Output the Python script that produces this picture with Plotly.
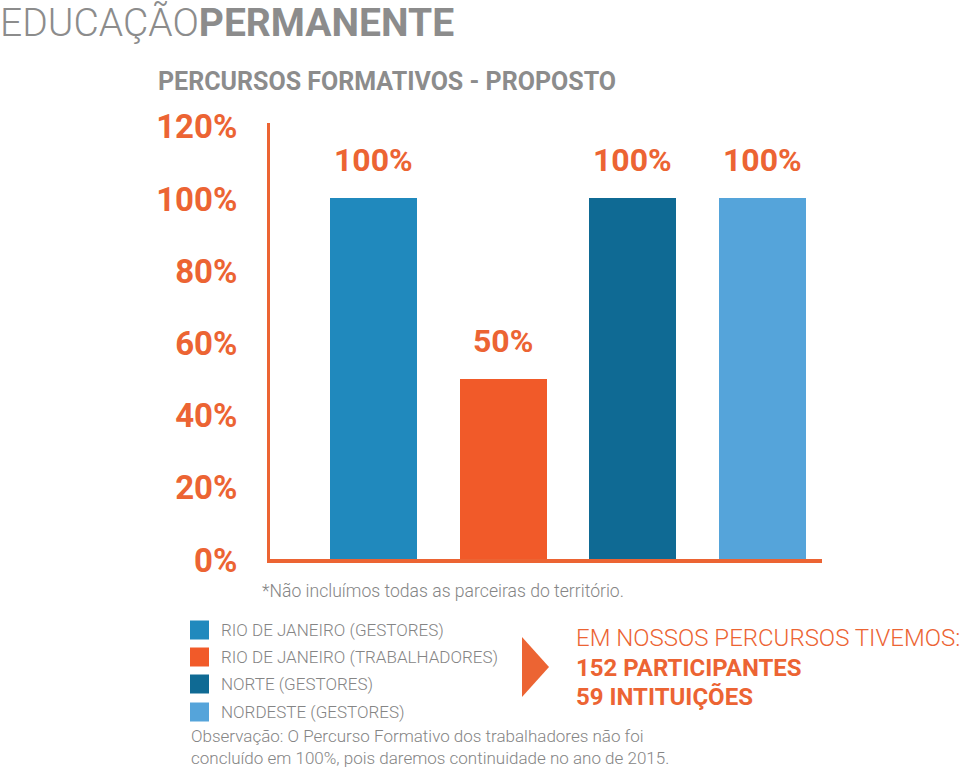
import plotly.graph_objects as go

categories = ["RIO DE JANEIRO (GESTORES)", "RIO DE JANEIRO (TRABALHADORES)",
              "NORTE (GESTORES)", "NORDESTE (GESTORES)"]
values = [100, 50, 100, 100]
bar_labels = ["100%", "50%", "100%", "100%"]
colors = ["#2089bd", "#f15a29", "#0f6a94", "#55a4da"]
tick_vals = [0, 20, 40, 60, 80, 100, 120]
tick_text = ["0%", "20%", "40%", "60%", "80%", "100%", "120%"]

ORANGE = "#ec6433"
GREY = "#858585"
FONT = "Roboto"

W, H = 960, 767
L, R, T, B = 270, 138, 123, 208
PW, PH = W - L - R, H - T - B


def px(x):
    return (x - L) / PW


def py(y):
    return (H - B - y) / PH


fig = go.Figure()
xs = list(range(len(categories)))
fig.add_trace(go.Bar(x=xs, y=values, marker_color=colors, width=0.67,
                     marker_line_width=0, showlegend=False,
                     hoverinfo="skip"))

for i, (v, t) in enumerate(zip(values, bar_labels)):
    fig.add_annotation(x=xs[i], y=v, text=t, showarrow=False, yshift=38,
                       font=dict(family=FONT, size=32, color=ORANGE, weight="bold"),
                       xref="x", yref="y")

# titles
fig.add_annotation(x=px(-2), y=py(23), xref="paper", yref="paper",
                   xanchor="left", yanchor="middle", showarrow=False,
                   text="EDUCAÇÃO<b>PERMANENTE</b>",
                   font=dict(family=FONT, size=39, color="#8c8c8c", weight=300))
fig.add_annotation(x=px(156), y=py(82), xref="paper", yref="paper",
                   xanchor="left", yanchor="middle", showarrow=False,
                   text="<b>PERCURSOS FORMATIVOS - PROPOSTO</b>",
                   font=dict(family=FONT, size=25, color="#8c8c8c"))

# footnote
fig.add_annotation(x=px(260), y=py(591), xref="paper", yref="paper",
                   xanchor="left", yanchor="middle", showarrow=False,
                   text="*Não incluímos todas as parceiras do território.",
                   font=dict(family=FONT, size=17.6, color=GREY, weight=300))

# manual legend
leg_y = [630, 657, 684, 712]
for name, col, yy in zip(categories, colors, leg_y):
    fig.add_shape(type="rect", xref="paper", yref="paper",
                  x0=px(190), x1=px(209), y0=py(yy - 9.5), y1=py(yy + 9.5),
                  fillcolor=col, line_width=0)
    fig.add_annotation(x=px(219), y=py(yy), xref="paper", yref="paper",
                       xanchor="left", yanchor="middle", showarrow=False,
                       text=name,
                       font=dict(family=FONT, size=17, color=GREY, weight=300))

fig.add_annotation(x=px(189), y=py(747), xref="paper", yref="paper",
                   xanchor="left", yanchor="middle", showarrow=False, align="left",
                   text="Observação: O Percurso Formativo dos trabalhadores não foi<br>"
                        "concluído em 100%, pois daremos continuidade no ano de 2015.",
                   font=dict(family=FONT, size=17, color=GREY, weight=300))

# arrow
fig.add_shape(type="path", xref="paper", yref="paper",
              path=f"M {px(522)},{py(637)} L {px(549)},{py(667)} L {px(522)},{py(697)} Z",
              fillcolor=ORANGE, line_width=0)

fig.add_annotation(x=px(574), y=py(638), xref="paper", yref="paper",
                   xanchor="left", yanchor="middle", showarrow=False,
                   text="EM NOSSOS PERCURSOS TIVEMOS:",
                   font=dict(family=FONT, size=24, color=ORANGE, weight=300))
fig.add_annotation(x=px(574), y=py(668), xref="paper", yref="paper",
                   xanchor="left", yanchor="middle", showarrow=False,
                   text="<b>152 PARTICIPANTES</b>",
                   font=dict(family=FONT, size=24, color=ORANGE))
fig.add_annotation(x=px(574), y=py(697), xref="paper", yref="paper",
                   xanchor="left", yanchor="middle", showarrow=False,
                   text="<b>59 INTITUIÇÕES</b>",
                   font=dict(family=FONT, size=24, color=ORANGE))

fig.update_layout(
    width=W, height=H,
    margin=dict(l=L, r=R, t=T, b=B),
    plot_bgcolor="white", paper_bgcolor="white",
    bargap=0,
    xaxis=dict(range=[-0.80, 3.46], showticklabels=False, showgrid=False,
               zeroline=False, showline=True, linecolor=ORANGE, linewidth=4,
               fixedrange=True),
    yaxis=dict(range=[0, PH / 3.61], tickvals=tick_vals, ticktext=tick_text,
               showgrid=False, zeroline=False, showline=True, linecolor=ORANGE,
               linewidth=3, ticks="", ticklabelstandoff=23, ticklabelshift=1,
               tickfont=dict(family=FONT, size=33, color=ORANGE, weight="bold"),
               fixedrange=True),
    showlegend=False,
)

fig.write_html("out.html",
               config={"displayModeBar": False},
               post_script="document.body.style.margin='0';"
                           "document.body.style.overflow='hidden';")
